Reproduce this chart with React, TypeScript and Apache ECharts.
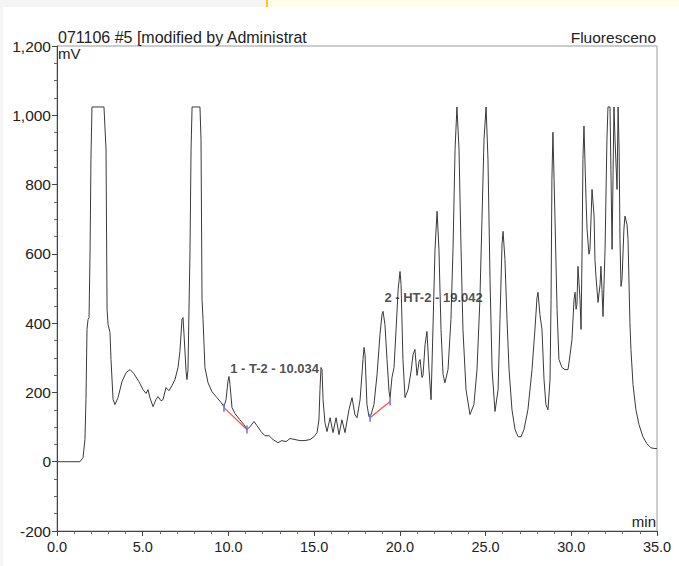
import React, { useEffect, useRef } from "react";
import * as echarts from "echarts";

// Chromatogram trace: retention time (min) and signal (mV)
const TIME = [
  0, 1.34, 1.52, 1.63, 1.69, 1.75, 1.81, 1.87, 1.93, 1.98, 2.04, 2.74, 2.86, 2.92, 2.98, 3.09, 3.15, 3.27, 3.38,
  3.56, 3.79, 4.03, 4.26, 4.49, 4.78, 5.02, 5.19, 5.31, 5.42, 5.6, 5.77, 5.89, 6.07, 6.18, 6.36, 6.53, 6.71, 6.88,
  7.06, 7.17, 7.29, 7.35, 7.41, 7.53, 7.58, 7.64, 7.76, 7.82, 7.88, 8.34, 8.4, 8.46, 8.52, 8.63, 8.81, 9.04, 9.33,
  9.57, 9.74, 9.86, 9.97, 10.03, 10.09, 10.21, 10.38, 10.67, 10.91, 11.08, 11.26, 11.49, 11.67, 11.9, 12.13, 12.37,
  12.6, 12.89, 13.12, 13.36, 13.59, 13.88, 14.17, 14.47, 14.76, 14.99, 15.17, 15.28, 15.34, 15.4, 15.46, 15.52,
  15.63, 15.75, 15.93, 16.1, 16.28, 16.45, 16.62, 16.8, 17.03, 17.21, 17.38, 17.5, 17.68, 17.85, 17.91, 17.97,
  18.08, 18.2, 18.32, 18.49, 18.67, 18.84, 18.96, 19.02, 19.13, 19.25, 19.37, 19.43, 19.54, 19.66, 19.78, 19.9,
  20.01, 20.07, 20.18, 20.3, 20.48, 20.65, 20.77, 20.88, 21.0, 21.12, 21.18, 21.29, 21.35, 21.47, 21.58, 21.7,
  21.82, 21.93, 22.05, 22.17, 22.28, 22.4, 22.52, 22.63, 22.81, 22.98, 23.1, 23.22, 23.33, 23.45, 23.57, 23.68,
  23.86, 24.09, 24.32, 24.5, 24.67, 24.79, 24.91, 25.03, 25.14, 25.26, 25.38, 25.55, 25.73, 25.84, 25.96, 26.02,
  26.13, 26.25, 26.37, 26.54, 26.72, 26.9, 27.07, 27.24, 27.47, 27.71, 27.88, 28.0, 28.06, 28.17, 28.29, 28.41,
  28.52, 28.64, 28.76, 28.82, 28.87, 28.93, 29.05, 29.17, 29.28, 29.46, 29.63, 29.81, 29.93, 30.04, 30.16, 30.22,
  30.28, 30.33, 30.39, 30.51, 30.57, 30.63, 30.68, 30.74, 30.86, 30.92, 31.03, 31.09, 31.21, 31.33, 31.38, 31.44,
  31.56, 31.68, 31.73, 31.79, 31.85, 31.97, 32.08, 32.14, 32.26, 32.32, 32.38, 32.44, 32.49, 32.55, 32.67, 32.73,
  32.79, 32.84, 32.9, 32.96, 33.07, 33.13, 33.25, 33.31, 33.42, 33.48, 33.6, 33.77, 33.95, 34.18, 34.41, 34.65,
  34.88, 35.0,
];
const MV = [
  0, 0, 12, 64, 180, 382, 410, 416, 613, 873, 1024, 1024, 902, 440, 396, 373, 295, 180, 165,
  185, 231, 257, 266, 254, 231, 208, 197, 208, 185, 159, 179, 188, 176, 179, 214, 205, 220, 237,
  272, 318, 410, 416, 367, 260, 237, 266, 613, 902, 1024, 1024, 931, 468, 410, 272, 228, 202, 185,
  171, 159, 179, 231, 246, 223, 156, 139, 121, 107, 93, 101, 116, 104, 87, 75, 75,
  64, 55, 61, 58, 67, 64, 61, 61, 64, 72, 84, 121, 208, 272, 266, 179,
  113, 87, 127, 84, 127, 78, 121, 84, 150, 185, 136, 127, 179, 295, 330, 309,
  165, 130, 136, 165, 252, 367, 425, 434, 396, 295, 202, 185, 243, 272, 382, 497,
  549, 512, 295, 185, 208, 260, 309, 324, 249, 289, 295, 243, 249, 338, 376, 266,
  179, 382, 613, 723, 613, 382, 252, 228, 266, 410, 613, 902, 1024, 902, 613, 382,
  208, 136, 165, 266, 468, 700, 931, 1024, 873, 526, 266, 145, 208, 410, 628, 665,
  584, 410, 266, 150, 93, 72, 72, 93, 150, 266, 382, 474, 489, 425, 382, 237,
  165, 150, 237, 468, 815, 951, 700, 440, 295, 272, 266, 266, 309, 353, 468, 489,
  440, 454, 564, 468, 382, 613, 873, 969, 758, 671, 599, 613, 786, 709, 584, 535,
  460, 512, 564, 497, 419, 613, 931, 1024, 1024, 815, 613, 844, 1024, 931, 786, 1024,
  902, 642, 506, 526, 671, 709, 685, 642, 402, 324, 223, 150, 107, 72, 52, 40,
  38, 38,
];

// Integration baselines (start/end of each peak) in min / mV
const BASE1_T = [9.74, 11.08];
const BASE1_V = [156, 93];
const BASE2_T = [18.26, 19.43];
const BASE2_V = [127, 174];

// Peak labels
const PEAK_NAMES = ["1 - T-2 - 10.034", "2 - HT-2 - 19.042"];
const PEAK_LABEL_T = [10.1, 19.1];
const PEAK_LABEL_V = [269, 474];

// Axis ticks
const X_MIN = 0, X_MAX = 35, X_STEP = 5;
const Y_MIN = -200, Y_MAX = 1200, Y_STEP = 200;

const TITLE_LEFT = "071106 #5 [modified by Administrat";
const TITLE_RIGHT = "Fluoresceno";
const Y_UNIT = "mV";
const X_UNIT = "min";

const FONT = '"Liberation Sans", Arial, sans-serif';

export default function App() {
  const ref = useRef<HTMLDivElement>(null);
  useEffect(() => {
    if (!ref.current) return;
    const chart = echarts.init(ref.current, undefined, { renderer: "svg" });
    const trace = TIME.map((t, i) => [t, MV[i]]);
    const base1 = BASE1_T.map((t, i) => [t, BASE1_V[i]]);
    const base2 = BASE2_T.map((t, i) => [t, BASE2_V[i]]);
    const labels = PEAK_NAMES.map((n, i) => ({ value: [PEAK_LABEL_T[i], PEAK_LABEL_V[i]], name: n }));
    chart.setOption({
      animation: false,
      backgroundColor: "#ffffff",
      grid: {
        left: 57,
        right: 22,
        top: 46,
        bottom: 35,
        show: true,
        borderColor: "#9a9a9a",
        borderWidth: 1,
      },
      graphic: [
        { type: "rect", left: 0, top: 0, shape: { width: 266, height: 7 }, style: { fill: "#f5f5f5" }, silent: true },
        { type: "rect", left: 266, top: 0, shape: { width: 2, height: 7 }, style: { fill: "#ffc81e" }, silent: true },
        { type: "rect", left: 268, top: 0, shape: { width: 411, height: 7 }, style: { fill: "#fffde8" }, silent: true },
        { type: "rect", left: 0, top: 7, shape: { width: 3, height: 559 }, style: { fill: "#f5f5f5" }, silent: true },
        {
          type: "text", left: 58, top: 29,
          style: { text: TITLE_LEFT, font: `16px ${FONT}`, fill: "#222" },
        },
        {
          type: "text", right: 23, top: 29,
          style: { text: TITLE_RIGHT, font: `15.5px ${FONT}`, fill: "#222" },
        },
        {
          type: "text", left: 58, top: 46,
          style: { text: Y_UNIT, font: `15px ${FONT}`, fill: "#222" },
        },
        {
          type: "text", right: 23, top: 514,
          style: { text: X_UNIT, font: `15px ${FONT}`, fill: "#222" },
        },
      ],
      xAxis: {
        type: "value",
        min: X_MIN,
        max: X_MAX,
        interval: X_STEP,
        axisLine: { show: true, onZero: false, lineStyle: { color: "#444", width: 1 } },
        axisTick: { show: true, length: 5, lineStyle: { color: "#444" } },
        minorTick: { show: true, splitNumber: 5, length: 3, lineStyle: { color: "#666" } },
        axisLabel: {
          formatter: (v: number) => v.toFixed(1),
          fontFamily: FONT,
          fontSize: 14.5,
          color: "#222",
          margin: 8,
        },
        splitLine: { show: false },
      },
      yAxis: {
        type: "value",
        min: Y_MIN,
        max: Y_MAX,
        interval: Y_STEP,
        axisLine: { show: true, onZero: false, lineStyle: { color: "#444", width: 1 } },
        axisTick: { show: true, length: 5, lineStyle: { color: "#444" } },
        minorTick: { show: true, splitNumber: 4, length: 3, lineStyle: { color: "#666" } },
        axisLabel: {
          formatter: (v: number) => v.toLocaleString("en-US"),
          fontFamily: FONT,
          fontSize: 15.5,
          color: "#222",
          margin: 6,
        },
        splitLine: { show: false },
      },
      series: [
        {
          type: "line",
          data: trace,
          showSymbol: false,
          symbol: "none",
          lineStyle: { color: "#3a3a3a", width: 1 },
          clip: true,
          z: 3,
        },
        {
          type: "line",
          data: base1,
          symbol: "rect",
          symbolSize: [1.5, 8],
          itemStyle: { color: "#6b6bff" },
          lineStyle: { color: "#ff4b4b", width: 1.2 },
          z: 4,
        },
        {
          type: "line",
          data: base2,
          symbol: "rect",
          symbolSize: [1.5, 8],
          itemStyle: { color: "#6b6bff" },
          lineStyle: { color: "#ff4b4b", width: 1.2 },
          z: 4,
        },
        {
          type: "scatter",
          data: labels,
          symbolSize: 0,
          z: 5,
          label: {
            show: true,
            position: "right",
            distance: 0,
            formatter: (p: any) => p.name,
            fontFamily: FONT,
            fontSize: 13,
            fontWeight: "bold",
            color: "#222",
          },
        },
      ],
    });
    return () => chart.dispose();
  }, []);
  return (
    <div
      ref={ref}
      style={{ position: "absolute", left: 0, top: 0, width: 679, height: 566 }}
    />
  );
}
